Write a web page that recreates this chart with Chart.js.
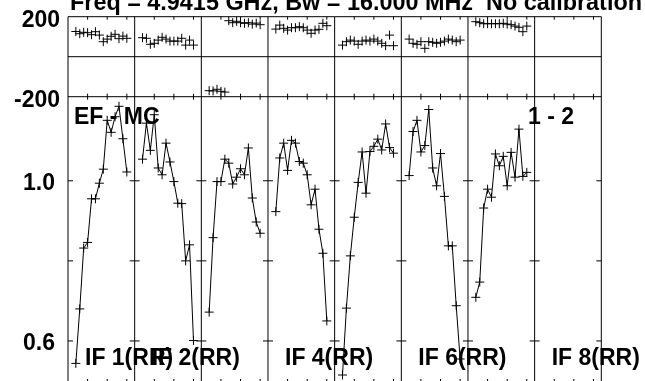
<!DOCTYPE html>
<html>
<head>
<meta charset="utf-8">
<title>EF - MC 1 - 2</title>
<script src="https://cdn.jsdelivr.net/npm/chart.js@4/dist/chart.umd.min.js"></script>
<style>
  html, body { margin: 0; padding: 0; background: #fff; overflow: hidden; }
  canvas { display: block; }
</style>
</head>
<body>
<canvas id="possm" width="645" height="400"></canvas>
<script>
// Data: channels 2..15 of each IF (edge channels flagged)
const channels = [2, 3, 4, 5, 6, 7, 8, 9, 10, 11, 12, 13, 14, 15];
const ifLabels = ['IF 1(RR)', 'IF 2(RR)', '', 'IF 4(RR)', '', 'IF 6(RR)', '', 'IF 8(RR)'];
const chanTicks = [5, 10, 15];
const chanPerIF = 17;

const phaseIF1 = [126, 115, 122, 120, 110, 125, 108, 75, 88, 102, 112, 90, 103, 92];
const phaseIF2 = [95, 92, 62, 67, 83, 97, 88, 78, 78, 78, 92, 58, 83, 58];
const phaseIF3 = [-170, -171, -163, -173, -177, 180, 170, 177, 170, 167, 170, 163, 168, 160];
const phaseIF4 = [138, 158, 142, 133, 145, 145, 150, 145, 133, 117, 133, 137, 167, 155];
const phaseIF5 = [58, 75, 83, 78, 62, 78, 83, 78, 88, 78, 67, 55, 108, 55];
const phaseIF6 = [88, 67, 62, 75, 42, 75, 72, 67, 72, 78, 88, 83, 75, 83];
const phaseIF7 = [175, 170, 165, 165, 165, 165, 165, 167, 163, 160, 153, 147, 125, 153];
const phaseIF8 = [];

const ampIF1 = [0.544, 0.68, 0.832, 0.846, 0.955, 0.955, 0.994, 1.029, 1.151, 1.121, 1.16, 1.186, 1.105, 1.022];
const ampIF2 = [1.054, 1.144, 1.076, 1.165, 1.032, 1.015, 1.094, 1.047, 0.998, 0.944, 0.943, 0.80, 0.84, 0.601];
const ampIF3 = [0.672, 0.858, 0.998, 0.998, 1.054, 1.044, 0.992, 1.009, 1.030, 1.015, 1.082, 0.957, 0.897, 0.869];
const ampIF4 = [0.923, 1.057, 1.094, 1.026, 1.101, 1.094, 1.048, 1.044, 1.015, 0.94, 0.979, 0.879, 0.819, 0.65];
const ampIF5 = [0.515, 0.682, 0.8125, 0.909, 0.996, 1.072, 0.969, 1.073, 1.086, 1.104, 1.077, 1.142, 1.083, 1.069];
const ampIF6 = [1.013, 1.123, 1.151, 1.072, 1.088, 1.178, 1.032, 0.9875, 1.068, 0.961, 0.8375, 0.8375, 0.688, 0.555];
const ampIF7 = [0.709, 0.747, 0.932, 0.979, 0.959, 1.067, 1.0375, 1.061, 0.9875, 1.071, 1.009, 1.129, 1.011, 1.021];
const ampIF8 = [];

const phaseTickLabels = [200, -200];
const ampTickLabels = [1.0, 0.6];
const ampTicks = [1.0, 0.8, 0.6];

const phases = [phaseIF1, phaseIF2, phaseIF3, phaseIF4, phaseIF5, phaseIF6, phaseIF7, phaseIF8];
const amps = [ampIF1, ampIF2, ampIF3, ampIF4, ampIF5, ampIF6, ampIF7, ampIF8];

const FONT = 'bold 23px "Liberation Sans", Arial, sans-serif';
const TITLE_FONT = 'bold 23.4px "Liberation Sans", Arial, sans-serif';

function toPoints(values, i) {
    return values.map((v, k) => ({ x: i * chanPerIF + channels[k], y: v }));
}

const datasets = [];
phases.forEach((vals, i) => {
    datasets.push({
        label: 'phase ' + (i + 1),
        yAxisID: 'phase',
        data: toPoints(vals, i),
        showLine: false,
        pointStyle: 'cross',
        pointRadius: 4.5,
        pointBorderWidth: 1,
        pointBorderColor: '#000',
        borderColor: '#000'
    });
});
amps.forEach((vals, i) => {
    datasets.push({
        label: 'amp ' + (i + 1),
        yAxisID: 'amp',
        data: toPoints(vals, i),
        showLine: true,
        borderWidth: 1,
        borderColor: '#000',
        pointStyle: 'cross',
        pointRadius: 4.5,
        pointBorderWidth: 1,
        pointBorderColor: '#000'
    });
});

// frame, dividers, tick marks and texts
const possmFrame = {
    id: 'possmFrame',
    beforeDatasetsDraw(chart) {
        const ctx = chart.ctx;
        const xs = chart.scales.x, ph = chart.scales.phase, am = chart.scales.amp;
        const left = xs.left, right = xs.right;
        const top = ph.getPixelForValue(200);
        const bottom = am.bottom;
        ctx.save();
        ctx.strokeStyle = '#000';
        ctx.lineWidth = 1;
        const line = (x1, y1, x2, y2) => {
            ctx.beginPath(); ctx.moveTo(x1, y1); ctx.lineTo(x2, y2); ctx.stroke();
        };
        [200, 0, -200].forEach(v => line(left, ph.getPixelForValue(v), right, ph.getPixelForValue(v)));
        line(left, bottom, right, bottom);

        for (let k = 0; k <= ifLabels.length; k++) {
            const x = xs.getPixelForValue(k * chanPerIF);
            line(x, top, x, bottom);
            ampTicks.forEach(v => {
                const y = am.getPixelForValue(v);
                line(k > 0 ? x - 5 : x, y, k < ifLabels.length ? x + 5 : x, y);
            });
        }
        const mid = ph.getPixelForValue(-200);
        for (let k = 0; k < ifLabels.length; k++) {
            chanTicks.forEach(t => {
                const x = xs.getPixelForValue(k * chanPerIF + t);
                line(x, top, x, top + 3);
                line(x, mid - 3, x, mid + 3);
                line(x, bottom, x, bottom - 5);
            });
        }
        ctx.restore();
    },
    afterDatasetsDraw(chart) {
        const ctx = chart.ctx;
        const xs = chart.scales.x, ph = chart.scales.phase, am = chart.scales.amp;
        ctx.save();
        ctx.fillStyle = '#000';
        ctx.textBaseline = 'alphabetic';
        ctx.textAlign = 'left';
        ctx.font = TITLE_FONT;
        ctx.fillText('Freq = 4.9415 GHz, Bw = 16.000 MHz  No calibration', 70, 10);
        ctx.font = FONT;
        ctx.fillText('EF - MC', 74, 124);
        ctx.fillText('1 - 2', 528, 124);
        ifLabels.forEach((txt, k) => {
            if (txt) ctx.fillText(txt, xs.getPixelForValue(k * chanPerIF) + 17, 365);
        });
        ctx.textAlign = 'right';
        phaseTickLabels.forEach(v => ctx.fillText(String(v), 60, ph.getPixelForValue(v) + 10.5));
        ampTickLabels.forEach(v => ctx.fillText(v.toFixed(1), 55, am.getPixelForValue(v) + 9));
        ctx.restore();
    }
};

new Chart(document.getElementById('possm'), {
    type: 'line',
    data: { datasets: datasets },
    options: {
        responsive: false,
        maintainAspectRatio: false,
        devicePixelRatio: 1,
        animation: false,
        events: [],
        layout: { padding: { left: 68, right: 43.7, top: 16.7, bottom: 16 } },
        elements: { line: { tension: 0 } },
        plugins: { legend: { display: false }, tooltip: { enabled: false } },
        scales: {
            x: { type: 'linear', display: false, min: 0, max: chanPerIF * ifLabels.length },
            phase: { type: 'linear', position: 'left', display: false, stack: 'possm', stackWeight: 80, weight: 2, min: -200, max: 200 },
            amp: { type: 'linear', position: 'left', display: false, stack: 'possm', stackWeight: 287.3, weight: 1, min: 0.4925, max: 1.21 }
        }
    },
    plugins: [possmFrame]
});
</script>
</body>
</html>
